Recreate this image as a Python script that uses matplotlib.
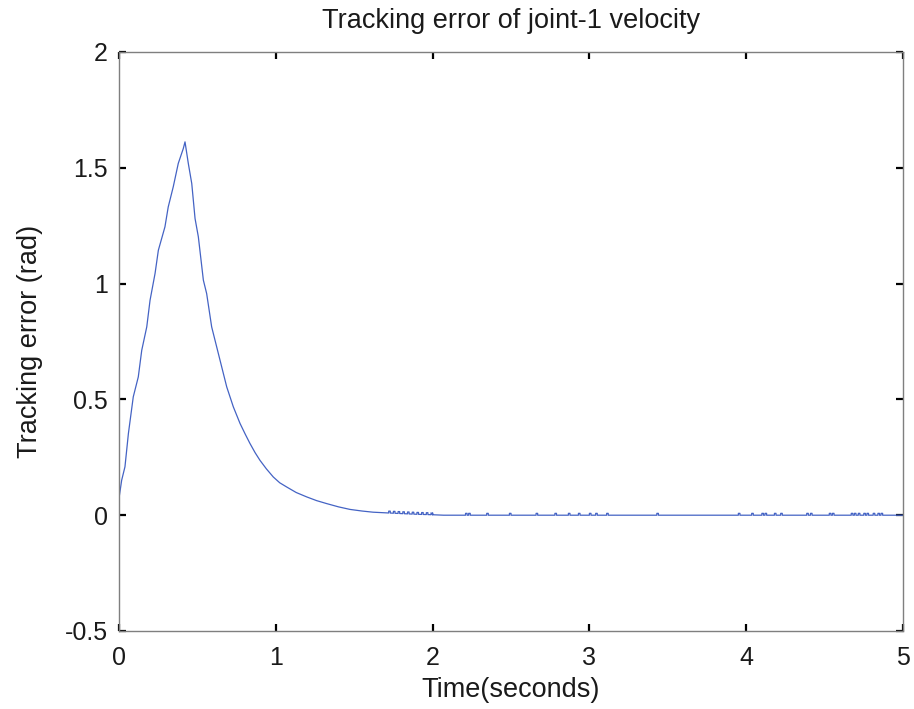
from matplotlib import pyplot as plt
import numpy as np


# readings of the error curve (seconds, rad)
t_main = [0.0, 0.017, 0.038, 0.06, 0.091, 0.123, 0.145, 0.177, 0.198, 0.230,
          0.251, 0.293, 0.314, 0.346, 0.378, 0.410, 0.421, 0.442, 0.464,
          0.485, 0.506, 0.538, 0.559, 0.591, 0.623, 0.655, 0.687, 0.729,
          0.772, 0.805, 0.835, 0.868, 0.899, 0.940, 0.984, 1.025, 1.069,
          1.130, 1.197, 1.260, 1.325, 1.400, 1.473, 1.550, 1.620, 1.707,
          1.800, 1.900, 2.000, 2.070, 5.0]
y_main = [0.073, 0.151, 0.209, 0.353, 0.511, 0.597, 0.712, 0.813, 0.928,
          1.044, 1.144, 1.245, 1.331, 1.418, 1.519, 1.583, 1.612, 1.519,
          1.432, 1.281, 1.202, 1.015, 0.957, 0.813, 0.727, 0.640, 0.554,
          0.468, 0.396, 0.350, 0.310, 0.270, 0.237, 0.200, 0.165, 0.140,
          0.122, 0.098, 0.079, 0.063, 0.050, 0.036, 0.025, 0.018, 0.013,
          0.010, 0.007, 0.004, 0.002, 0.0, 0.0]

# small chatter pulses on the settled part of the curve
spike_times = [1.72, 1.75, 1.78, 1.81, 1.84, 1.87, 1.90, 1.93, 1.96, 1.99,
               2.21, 2.23, 2.345, 2.49, 2.66, 2.78, 2.866, 2.93, 3.0, 3.04,
               3.11, 3.43, 3.95, 4.035, 4.10, 4.12, 4.18, 4.22, 4.386, 4.41,
               4.53, 4.55, 4.67, 4.69, 4.715, 4.75, 4.77, 4.81, 4.84, 4.86]
spike_height = 0.008
spike_width = 0.01

X_TICKS = [0, 1, 2, 3, 4, 5]
Y_TICKS = [-0.5, 0, 0.5, 1, 1.5, 2]
Y_TICK_LABELS = ["-0.5", "0", "0.5", "1", "1.5", "2"]


def build_series():
    t = np.array(t_main)
    y = np.array(y_main)
    pts = list(zip(t, y))
    for ts in spike_times:
        base = np.interp(ts, t, y)
        end = np.interp(ts + spike_width, t, y)
        pts += [(ts, base), (ts + 1e-4, base + spike_height),
                (ts + spike_width, base + spike_height),
                (ts + spike_width + 1e-4, end)]
    pts.sort(key=lambda p: p[0])
    return np.array([p[0] for p in pts]), np.array([p[1] for p in pts])


def main():
    plt.rcParams["font.family"] = ["Liberation Sans", "DejaVu Sans"]
    fig = plt.figure(figsize=(9.14, 7.09), dpi=100)
    ax = fig.add_axes([119 / 914, 1 - 631 / 709, 784 / 914, 579 / 709])

    t, y = build_series()
    ax.plot(t, y, color="#4463c4", linewidth=0.9)

    ax.set_xlim(0, 5)
    ax.set_ylim(-0.5, 2)
    ax.set_xticks(X_TICKS)
    ax.set_yticks(Y_TICKS)
    ax.set_yticklabels(Y_TICK_LABELS)

    for spine in ax.spines.values():
        spine.set_color("#7f7f7f")
        spine.set_linewidth(1.0)
    ax.tick_params(direction="in", length=5, width=1.6, color="black",
                   top=True, right=True, labelsize=18, labelcolor="#1a1a1a")
    ax.tick_params(axis="x", pad=11)
    ax.tick_params(axis="y", pad=8)

    ax.set_title("Tracking error of joint-1 velocity", fontsize=19.5,
                 color="#1a1a1a", pad=17)
    ax.set_xlabel("Time(seconds)", fontsize=19.5, color="#1a1a1a",
                  labelpad=5)
    ax.set_ylabel("Tracking error (rad)", fontsize=19.5, color="#1a1a1a",
                  labelpad=16)

    fig.savefig("out.png", dpi=100)


if __name__ == "__main__":
    main()
